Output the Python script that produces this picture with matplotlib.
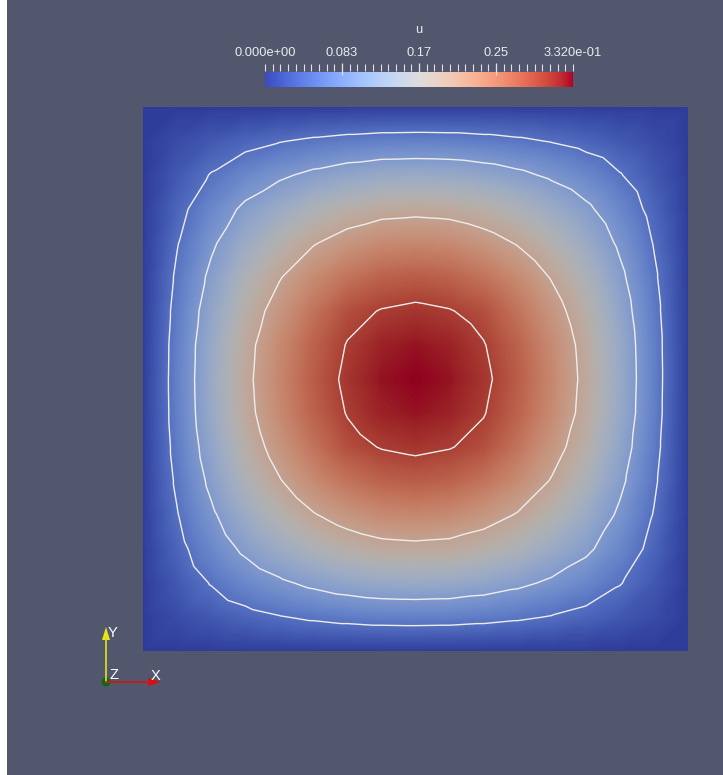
import numpy as np
import matplotlib
matplotlib.use('Agg')
import matplotlib.pyplot as plt
import matplotlib.tri as mtri
from matplotlib.colors import ListedColormap
from matplotlib.patches import Polygon, Circle, Rectangle

plt.rcParams['font.family'] = ['Liberation Sans', 'DejaVu Sans']

# ---------------- data ----------------
x_nodes = [0.0, 0.0625, 0.125, 0.1875, 0.25, 0.3125, 0.375, 0.4375, 0.5,
           0.5625, 0.625, 0.6875, 0.75, 0.8125, 0.875, 0.9375, 1.0]
y_nodes = [0.0, 0.0625, 0.125, 0.1875, 0.25, 0.3125, 0.375, 0.4375, 0.5,
           0.5625, 0.625, 0.6875, 0.75, 0.8125, 0.875, 0.9375, 1.0]
# nodal values of u in the lower-left quarter (rows = y, columns = x),
# the field is symmetric about x = 0.5 and y = 0.5
u_quarter = [
    [0.0, 0.000, 0.000, 0.000, 0.000, 0.000, 0.000, 0.000, 0.000],
    [0.0, 0.014, 0.026, 0.038, 0.048, 0.056, 0.062, 0.066, 0.067],
    [0.0, 0.026, 0.052, 0.075, 0.093, 0.109, 0.121, 0.129, 0.131],
    [0.0, 0.038, 0.075, 0.108, 0.134, 0.158, 0.175, 0.186, 0.189],
    [0.0, 0.048, 0.093, 0.134, 0.168, 0.197, 0.218, 0.232, 0.236],
    [0.0, 0.056, 0.109, 0.158, 0.197, 0.231, 0.256, 0.272, 0.277],
    [0.0, 0.062, 0.121, 0.175, 0.218, 0.256, 0.288, 0.302, 0.308],
    [0.0, 0.066, 0.129, 0.186, 0.232, 0.272, 0.302, 0.320, 0.326],
    [0.0, 0.067, 0.131, 0.189, 0.236, 0.277, 0.308, 0.326, 0.332],
]
u_min, u_max = 0.0, 0.332
contour_levels = [0.05, 0.1, 0.2, 0.3]
cbar_tick_values = [0.0, 0.083, 0.166, 0.249, 0.332]
cbar_tick_labels = ['0.000e+00', '0.083', '0.17', '0.25', '3.320e-01']
cbar_title = 'u'

# ---------------- figure ----------------
W, H = 723, 775
BG = (82 / 255, 87 / 255, 110 / 255)
fig = plt.figure(figsize=(W / 100, H / 100), dpi=100)
fig.patch.set_facecolor(BG)

def frac(x0, y0, x1, y1):
    return [x0 / W, 1 - y1 / H, (x1 - x0) / W, (y1 - y0) / H]

q = np.array(u_quarter)
half = np.hstack([q, q[:, -2::-1]])
Z = np.vstack([half, half[-2::-1]])

# mesh (right diagonals)
nx, ny = len(x_nodes), len(y_nodes)
X, Y = np.meshgrid(x_nodes, y_nodes)
tris = []
for j in range(ny - 1):
    for i in range(nx - 1):
        a = j * nx + i
        b = a + 1
        c = a + nx + 1
        d = a + nx
        tris.append([a, b, c])
        tris.append([a, c, d])
tri = mtri.Triangulation(X.ravel(), Y.ravel(), np.array(tris))

base = plt.get_cmap('coolwarm')(np.linspace(0, 1, 256))
lit = base.copy()
lit[:, :3] *= 0.8
lit_cmap = ListedColormap(lit)

ax = fig.add_axes(frac(143, 107, 688, 651))
ax.tripcolor(tri, Z.ravel(), shading='gouraud', cmap=lit_cmap, vmin=u_min, vmax=u_max)
ax.tricontourf(tri, Z.ravel(), levels=np.linspace(u_min, u_max, 257), cmap=lit_cmap,
               vmin=u_min, vmax=u_max, antialiased=False)
ax.tricontour(tri, Z.ravel(), levels=contour_levels, colors=[(0.93, 0.93, 0.93)],
              linewidths=1.0)
ax.set_xlim(0, 1)
ax.set_ylim(0, 1)
ax.axis('off')

# ---------------- colorbar ----------------
cax = fig.add_axes(frac(265, 72, 573, 87))
cax.imshow(np.linspace(0, 1, 256)[None, :], cmap='coolwarm', aspect='auto',
           extent=[u_min, u_max, 0, 1], interpolation='bilinear')
cax.set_xlim(u_min, u_max)
cax.set_ylim(0, 1)
cax.axis('off')
px = 1 / 15.0
tc = (0.88, 0.88, 0.9)
for v in np.linspace(u_min, u_max, 41):
    cax.plot([v, v], [1 + 1 * px, 1 + 8 * px], color=tc, lw=0.8, clip_on=False,
             solid_capstyle='butt')
for v in cbar_tick_values[1:-1]:
    cax.plot([v, v], [1 - 3 * px, 1 + 9 * px], color=tc, lw=0.9, clip_on=False,
             solid_capstyle='butt')
for v, lab in zip(cbar_tick_values, cbar_tick_labels):
    cax.text(v, 1 + 19 * px, lab, ha='center', va='center', color=(0.92, 0.92, 0.92),
             fontsize=9.3, clip_on=False)
cax.text((u_min + u_max) / 2, 1 + 42 * px, cbar_title, ha='center', va='center',
         color=(0.92, 0.92, 0.92), fontsize=9.3, clip_on=False)

# ---------------- overlay (triad, border strip) ----------------
ov = fig.add_axes([0, 0, 1, 1])
ov.set_xlim(0, W)
ov.set_ylim(H, 0)
ov.axis('off')
ov.patch.set_alpha(0)
ov.add_patch(Rectangle((0, 0), 7, H, color='white', lw=0))
ox, oy = 106, 682
ov.plot([ox, ox], [oy, 638], color=(0.85, 0.85, 0.1), lw=1.3)
ov.add_patch(Polygon([[ox - 4, 640], [ox + 4, 640], [ox, 627]], closed=True,
                     color=(0.9, 0.9, 0.1), lw=0))
ov.plot([ox, 150], [oy, oy], color=(0.8, 0.1, 0.1), lw=1.3)
ov.add_patch(Polygon([[148, oy - 4], [148, oy + 4], [161, oy]], closed=True,
                     color=(0.85, 0.05, 0.05), lw=0))
ov.add_patch(Circle((ox, oy), 4.5, color=(0.05, 0.4, 0.1), lw=0))
for tx, ty, s in [(113, 633, 'Y'), (114, 675, 'Z'), (156, 676, 'X')]:
    ov.text(tx, ty, s, color='white', fontsize=10.5, ha='center', va='center')

fig.savefig('out.png', dpi=100, facecolor=BG)
